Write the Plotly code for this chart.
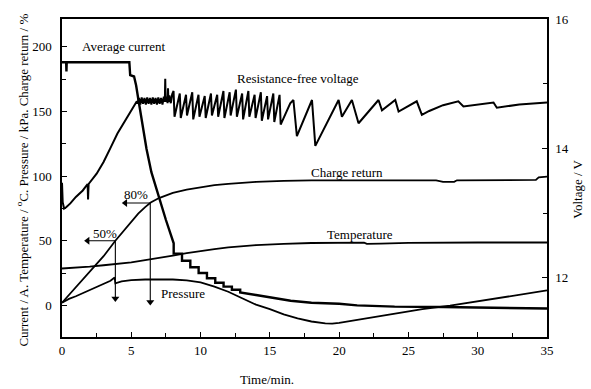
import plotly.graph_objects as go

# ---------------- data ----------------
# Average current (A), left axis
current_t = [0.0, 0.30, 0.32, 0.34, 4.86, 4.92, 5.20, 5.35, 5.50, 5.80, 6.10, 6.45, 7.00, 7.50, 8.06,
             8.06, 8.66, 8.66, 9.26, 9.26, 9.86, 9.86, 10.46, 10.46, 11.06, 11.06, 11.66, 11.66,
             12.26, 12.26, 12.86, 12.86, 14.0, 15.0, 16.5, 18.0, 20.0, 21.3, 24.0, 27.5, 31.0, 35.0]
current_v = [188, 188, 181, 188, 188, 178, 177, 170, 160, 140, 121, 103, 83, 66, 48,
             40, 40, 34.5, 34.5, 29.5, 29.5, 25, 25, 21, 21, 17.5, 17.5, 14.5,
             14.5, 12, 12, 10, 8, 6.3, 3.5, 2, 1.2, 0, -1, -1.3, -2, -2.5]

# Resistance-free voltage (V), right axis
volt_t = [0.0, 0.05, 0.15, 0.3, 0.6, 1.0, 1.5, 1.85, 1.88, 1.92, 2.5, 3.0, 3.5, 4.0, 4.5, 4.9, 5.2, 5.4,
          5.45, 5.55, 5.65, 5.75, 5.85, 5.95, 6.05, 6.15, 6.25, 6.35, 6.45, 6.55, 6.65, 6.75, 6.85,
          6.95, 7.05, 7.15, 7.25, 7.35, 7.42, 7.45, 7.48, 7.55, 7.62, 7.65, 7.68, 7.75, 7.85, 7.95,
          8.05, 8.12, 8.50, 8.57, 8.95, 9.02, 9.40, 9.47, 9.85, 9.92, 10.30, 10.37, 10.75, 10.82,
          11.20, 11.27, 11.65, 11.72, 12.10, 12.17, 12.55, 12.62, 13.00, 13.07, 13.45, 13.52,
          13.90, 13.97, 14.35, 14.42, 14.80, 14.87, 15.25, 15.32, 15.70, 15.78,
          16.47, 16.70, 16.95, 18.04, 18.28, 19.96, 20.20, 20.92, 21.40, 22.84, 23.09, 24.05,
          24.29, 25.60, 25.97, 26.50, 27.50, 28.60, 28.97, 30.0, 31.14, 31.38, 33.0, 35.0]
volt_v = [13.47, 13.17, 13.07, 13.09, 13.15, 13.25, 13.35, 13.45, 13.21, 13.45, 13.61, 13.79, 14.01,
          14.23, 14.41, 14.55, 14.67, 14.73,
          14.69, 14.78, 14.68, 14.79, 14.69, 14.78, 14.68, 14.79, 14.69, 14.78, 14.68, 14.79, 14.69,
          14.78, 14.68, 14.79, 14.69, 14.78, 14.68, 14.80, 14.72, 15.08, 14.72, 14.80, 14.70, 14.93,
          14.72, 14.82, 14.70, 14.84,
          14.89, 14.49, 14.85, 14.47, 14.83, 14.51, 14.87, 14.45, 14.83, 14.49, 14.81, 14.47, 14.85,
          14.51, 14.83, 14.49, 14.89, 14.47, 14.87, 14.51, 14.91, 14.49, 14.85, 14.45, 14.89, 14.49,
          14.83, 14.47, 14.87, 14.43, 14.81, 14.45, 14.85, 14.41, 14.83, 14.37,
          14.70, 14.75, 14.19, 14.75, 14.04, 14.75, 14.49, 14.75, 14.39, 14.75, 14.59, 14.75,
          14.57, 14.73, 14.52, 14.58, 14.67, 14.73, 14.65, 14.68, 14.71, 14.63, 14.68, 14.71]

# Charge return (%), left axis
charge_t = [0.0, 1.0, 2.0, 3.0, 3.85, 4.5, 5.0, 5.5, 6.0, 6.4, 7.0, 8.0, 9.0, 10.0, 11.0, 12.0,
            14.0, 16.0, 18.0, 27.0, 27.5, 28.3, 28.5, 34.2, 34.4, 35.0]
charge_v = [2, 14, 26, 38, 50, 58, 65, 71, 76, 79.5, 83, 87, 89.5, 91.5, 93, 94,
            95.5, 96.3, 96.7, 96.7, 95.5, 95.5, 96.7, 97, 99, 99.5]

# Temperature (oC), left axis
temp_t = [0, 1, 2, 3, 4, 5, 6, 7, 8, 9, 10, 11, 12, 13, 14, 16, 18, 21.8, 22.0, 23.0, 25.0, 30.0, 35.0]
temp_v = [28.5, 29, 30, 31, 32, 33.3, 35, 36.5, 38.5, 40.3, 42, 43.5, 44.8, 45.8, 46.6, 47.6, 48.2,
          48.5, 47.6, 47.8, 48.3, 48.6, 48.6]

# Pressure (kPa), left axis
press_t = [0, 0.5, 1, 1.5, 2, 2.5, 3, 3.5, 3.8, 3.85, 4.3, 5, 6, 7, 8, 9, 10, 11, 12, 13, 14, 15,
           16, 17, 18, 19, 19.5, 20, 22, 24, 26, 28, 30, 32, 35]
press_v = [2, 5, 7, 9.5, 12, 14.5, 16.5, 19, 21.5, 17, 18.5, 19.5, 20, 20.2, 20, 19.3, 17.8, 14.5,
           10.5, 5.5, 0.5, -3, -7, -10, -12.5, -14, -14.2, -13.5, -10, -6, -3, -0.3, 3.2, 6.5, 11.5]

# 50% / 80% charge-return markers (time, charge value) and where their arrows end
mark_t = [3.85, 6.37]
mark_v = [50, 79.2]
mark_left_t = [1.85, 4.57]
mark_down_v = [5.3, 2.5]
mark_labels = ["50%", "80%"]

x_ticks = [0, 5, 10, 15, 20, 25, 30, 35]
left_ticks = [0, 50, 100, 150, 200]
right_ticks = [12, 14, 16]

FONT = "Liberation Serif, Times New Roman, Times, serif"

fig = go.Figure()
line = dict(color="black", width=1.8)
fig.add_trace(go.Scatter(x=current_t, y=current_v, mode="lines", line=dict(color="black", width=2.4)))
fig.add_trace(go.Scatter(x=charge_t, y=charge_v, mode="lines", line=line))
fig.add_trace(go.Scatter(x=temp_t, y=temp_v, mode="lines", line=line))
fig.add_trace(go.Scatter(x=press_t, y=press_v, mode="lines", line=line))
fig.add_trace(go.Scatter(x=volt_t, y=volt_v, mode="lines", line=dict(color="black", width=2), yaxis="y2"))

# arrows: shafts as lines, heads as triangle markers
for t, v, lt, dv in zip(mark_t, mark_v, mark_left_t, mark_down_v):
    fig.add_trace(go.Scatter(x=[lt, t, t], y=[v, v, dv], mode="lines",
                             line=dict(color="black", width=1.1)))
    fig.add_trace(go.Scatter(x=[lt, t], y=[v, dv], mode="markers",
                             marker=dict(symbol=["triangle-left", "triangle-down"], size=7,
                                         color="black", line=dict(width=0))))

tf = dict(family=FONT, size=13, color="black")
ann = []
def label(text, x, y):
    ann.append(dict(text=text, x=x, y=y, xref="x", yref="y", showarrow=False, font=tf))

label("Average current", 4.5, 200)
label("Resistance-free voltage", 17.0, 175.6)
label("Charge return", 20.6, 103)
label("Temperature", 21.5, 55)
label("Pressure", 8.7, 9.2)
label(mark_labels[0], 3.13, 55.7)
label(mark_labels[1], 5.36, 85.5)

ann.append(dict(text="Time/min.", x=0.4227, y=-0.1335, xref="paper", yref="paper",
                showarrow=False, font=tf, xanchor="center", yanchor="middle"))
ann.append(dict(text="Current / A. Temperature / <sup>o</sup>C. Pressure / kPa. Charge return / %",
                x=-0.0825, y=0.495, xref="paper", yref="paper", showarrow=False, font=tf,
                textangle=-90, xanchor="center", yanchor="middle"))
ann.append(dict(text="Voltage / V", x=1.064, y=0.463, xref="paper", yref="paper", showarrow=False,
                font=tf, textangle=-90, xanchor="center", yanchor="middle"))

axis_common = dict(showline=True, linecolor="black", linewidth=1.5, ticks="inside", ticklen=5,
                   tickwidth=1.2, tickcolor="black", showgrid=False, zeroline=False,
                   tickfont=tf)

fig.update_layout(
    width=591, height=389,
    margin=dict(l=62, r=44, t=15, b=52),
    paper_bgcolor="white", plot_bgcolor="white",
    showlegend=False,
    font=dict(family=FONT, color="black"),
    xaxis=dict(range=[0, 35], tickvals=x_ticks, mirror=True, ticklabelstandoff=1,
               minor=dict(ticks="inside", tickvals=[2.5, 7.5, 12.5, 17.5, 22.5, 27.5, 32.5],
                          ticklen=4, tickcolor="black"),
               **axis_common),
    yaxis=dict(range=[-24.5, 221.5], tickvals=left_ticks, ticklabelstandoff=6,
               minor=dict(ticks="inside", tickvals=[25, 75, 125, 175], ticklen=4, tickcolor="black"),
               **axis_common),
    yaxis2=dict(range=[11.083, 16.003], tickvals=right_ticks, overlaying="y", side="right",
                ticklabelstandoff=4,
                minor=dict(ticks="inside", tickvals=[13, 15], ticklen=4, tickcolor="black"),
                **axis_common),
    annotations=ann,
)

# remove the page's default 8 px body margin so the figure fills the window exactly
fig.write_html("out.html", config={"displayModeBar": False},
               post_script="document.body.style.margin='0';document.body.style.overflow='hidden';")
